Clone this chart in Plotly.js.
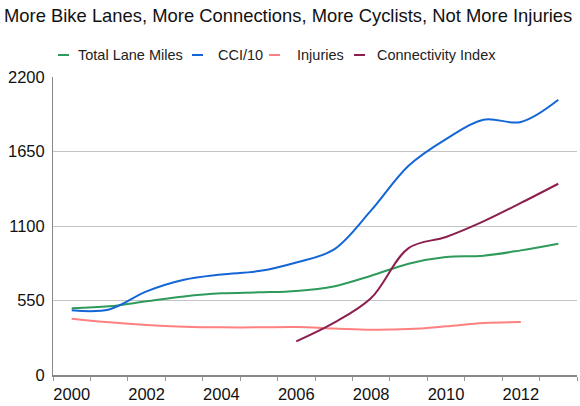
<!DOCTYPE html>
<html>
<head>
<meta charset="utf-8">
<script src="https://cdn.plot.ly/plotly-3.0.1.min.js"></script>
<style>
  html, body { margin: 0; padding: 0; background: #fff; }
  #chart { width: 580px; height: 406px; }
</style>
</head>
<body>
<div id="chart"></div>
<script>
// ---- data ----
const years = [2000, 2001, 2002, 2003, 2004, 2005, 2006, 2007, 2008, 2009, 2010, 2011, 2012, 2013];
const laneMiles = [492, 507, 544, 580, 603, 610, 620, 654, 733, 822, 871, 881, 920, 969];
const cci10 = [478, 484, 617, 703, 742, 767, 831, 925, 1215, 1545, 1742, 1885, 1868, 2032];
const injuryYears = [2000, 2001, 2002, 2003, 2004, 2005, 2006, 2007, 2008, 2009, 2010, 2011, 2012];
const injuries = [416, 389, 369, 357, 352, 352, 354, 344, 334, 339, 359, 384, 391];
const connYears = [2006, 2007, 2008, 2009, 2010, 2011, 2012, 2013];
const connectivity = [248, 384, 568, 937, 1019, 1134, 1270, 1412];
const seriesNames = ["Total Lane Miles", "CCI/10", "Injuries", "Connectivity Index"];
const seriesColors = ["#2e9a5c", "#1466d6", "#ff8080", "#8c1f50"];
const yTicks = [0, 550, 1100, 1650, 2200];
const xTickYears = [2000, 2002, 2004, 2006, 2008, 2010, 2012];
const titleText = "More Bike Lanes, More Connections, More Cyclists, Not More Injuries";

// ---- layout helpers ----
const W = 580, H = 406;
const M = { l: 53, r: 3, t: 77, b: 31 };
const PW = W - M.l - M.r, PH = H - M.t - M.b;
const px2x = p => (p - M.l) / PW;
const px2y = p => (H - M.b - p) / PH;

const xs = [years, years, injuryYears, connYears];
const ys = [laneMiles, cci10, injuries, connectivity];
const traces = xs.map((x, i) => ({
  type: 'scatter', mode: 'lines', x: x, y: ys[i], name: seriesNames[i],
  line: { color: seriesColors[i], width: 2, shape: 'spline', smoothing: 1 },
  showlegend: false, hoverinfo: 'skip'
}));

// custom legend
const legendDash = [[58, 69], [192, 203], [269, 280], [354, 365]];
const legendTextX = [76, 216, 295, 375];
const legendY = 55;
const shapes = [], annotations = [];
seriesNames.forEach((n, i) => {
  shapes.push({ type: 'line', xref: 'paper', yref: 'paper',
    x0: px2x(legendDash[i][0]), x1: px2x(legendDash[i][1]),
    y0: px2y(legendY), y1: px2y(legendY),
    line: { color: seriesColors[i], width: 2 } });
  annotations.push({ xref: 'paper', yref: 'paper', x: px2x(legendTextX[i]), y: px2y(legendY),
    xanchor: 'left', yanchor: 'middle', showarrow: false, text: n,
    font: { family: 'Liberation Sans, Arial, sans-serif', size: 14.5, color: '#222' } });
});

const minorVals = [];
for (let k = 0; k <= years.length; k++) minorVals.push(years[0] - 0.5 + k);

const layout = {
  width: W, height: H, margin: M,
  paper_bgcolor: '#fff', plot_bgcolor: '#fff',
  title: { text: titleText, xref: 'container', yref: 'container', x: 4 / W, xanchor: 'left',
    y: 1 - 16 / H, yanchor: 'middle',
    font: { family: 'Liberation Sans, Arial, sans-serif', size: 18.4, color: '#111' } },
  xaxis: {
    range: [years[0] - 0.5, years[years.length - 1] + 0.5],
    tickmode: 'array', tickvals: xTickYears, ticktext: xTickYears.map(String),
    ticks: '', showgrid: false, zeroline: false,
    showline: true, linecolor: '#888', linewidth: 1.5,
    ticklabelstandoff: 4,
    minor: { tickmode: 'array', tickvals: minorVals, ticks: 'outside', ticklen: 4, tickcolor: '#999', showgrid: false },
    tickfont: { family: 'Liberation Sans, Arial, sans-serif', size: 16.5, color: '#111' },
    fixedrange: true
  },
  yaxis: {
    range: [0, 2200], tickmode: 'array', tickvals: yTicks, ticktext: yTicks.map(String),
    ticks: '', showgrid: true, gridcolor: '#c4c4c4', gridwidth: 1, zeroline: false,
    showline: true, linecolor: '#888', linewidth: 1,
    ticklabelstandoff: 4,
    tickfont: { family: 'Liberation Sans, Arial, sans-serif', size: 16.5, color: '#111' },
    fixedrange: true
  },
  shapes: shapes, annotations: annotations,
  showlegend: false
};

Plotly.newPlot('chart', traces, layout, { displayModeBar: false, staticPlot: true });
</script>
</body>
</html>
